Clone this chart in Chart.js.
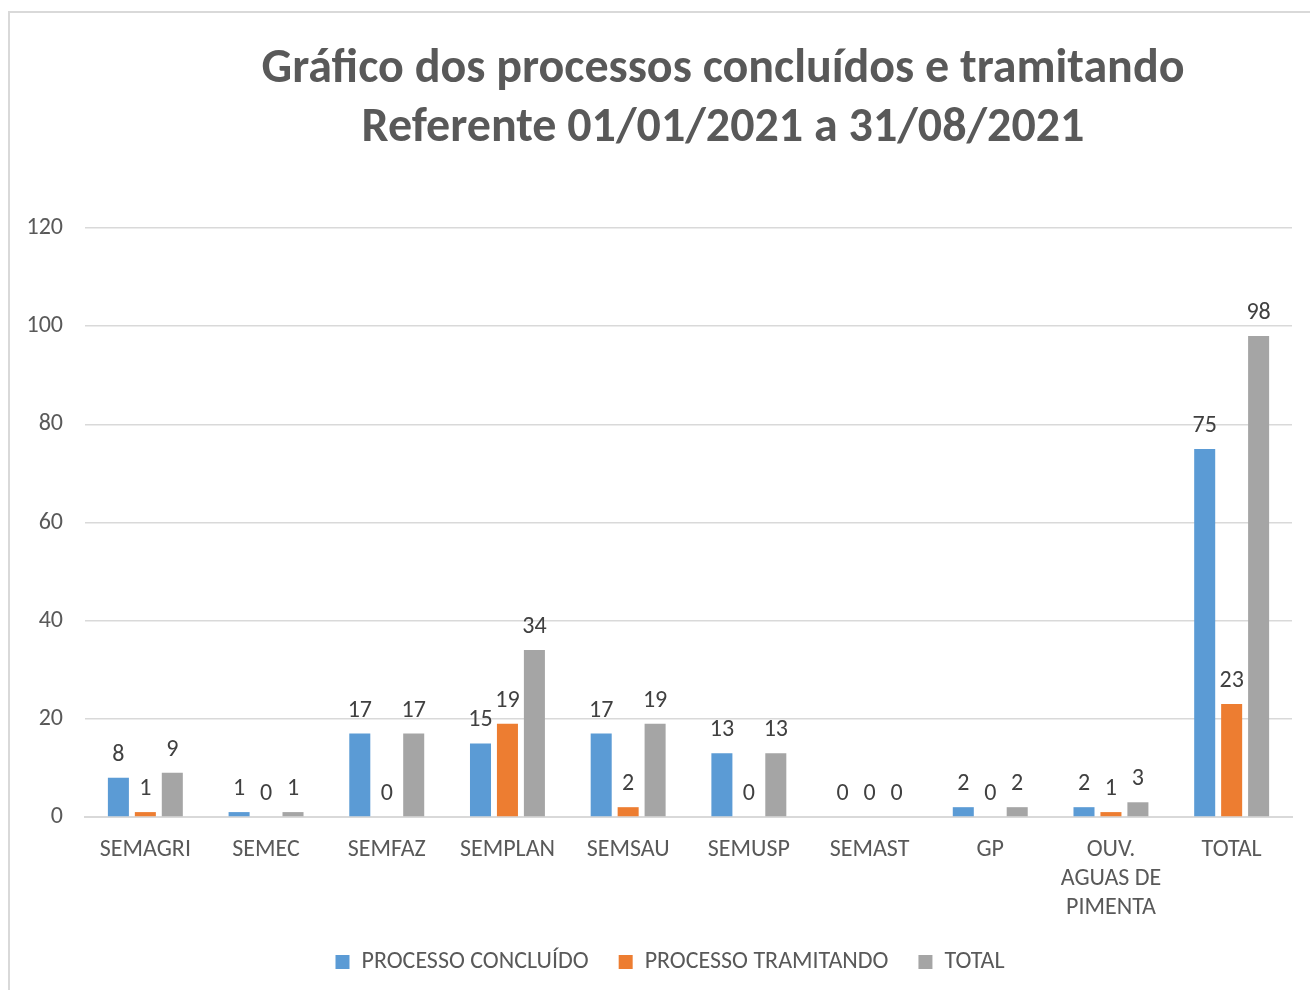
<!DOCTYPE html>
<html>
<head>
<meta charset="utf-8">
<script src="https://cdn.jsdelivr.net/npm/chart.js@4.4.1/dist/chart.umd.min.js"></script>
<style>
  html, body { margin: 0; padding: 0; background: #ffffff; }
  #wrap { position: relative; width: 1310px; height: 990px; overflow: hidden; }
  #frame { position: absolute; left: 8px; top: 11px; width: 1400px; height: 1100px;
           border-left: 2px solid #d9d9d9; border-top: 2px solid #d9d9d9; pointer-events: none; }
  canvas { position: absolute; left: 0; top: 0; }
</style>
</head>
<body>
<div id="wrap">
  <canvas id="c" width="1310" height="990"></canvas>
  <div id="frame"></div>
</div>
<script>
const titleLines = ['Gráfico dos processos concluídos e tramitando', 'Referente 01/01/2021 a 31/08/2021'];
const categories = ['SEMAGRI', 'SEMEC', 'SEMFAZ', 'SEMPLAN', 'SEMSAU', 'SEMUSP', 'SEMAST', 'GP', ['OUV.', 'AGUAS DE', 'PIMENTA'], 'TOTAL'];
const seriesNames = ['PROCESSO CONCLUÍDO', 'PROCESSO TRAMITANDO', 'TOTAL'];
const concluido   = [8, 1, 17, 15, 17, 13, 0, 2, 2, 75];
const tramitando  = [1, 0, 0, 19, 2, 0, 0, 0, 1, 23];
const total       = [9, 1, 17, 34, 19, 13, 0, 2, 3, 98];
const yTicks = [0, 20, 40, 60, 80, 100, 120];

const FONT = "Carlito, 'Open Sans', sans-serif";

const titlePlugin = {
  id: 'customTitle',
  afterLayout(chart) {
    if (chart.legend) { chart.legend.left += 24; chart.legend.right += 24; }
  },
  afterDraw(chart) {
    const ctx = chart.ctx;
    ctx.save();
    ctx.fillStyle = '#595959';
    ctx.font = "bold 48px " + FONT;
    ctx.textAlign = 'center';
    ctx.textBaseline = 'middle';
    ctx.fillText(titleLines[0], 723, 70);
    ctx.fillText(titleLines[1], 723, 129);
    ctx.restore();
  }
};

const labelPlugin = {
  id: 'barLabels',
  afterDatasetsDraw(chart) {
    const ctx = chart.ctx;
    ctx.save();
    ctx.fillStyle = '#404040';
    ctx.font = "24px " + FONT;
    ctx.textAlign = 'center';
    ctx.textBaseline = 'alphabetic';
    chart.data.datasets.forEach((ds, di) => {
      const meta = chart.getDatasetMeta(di);
      meta.data.forEach((bar, i) => {
        ctx.fillText(String(ds.data[i]), bar.x, bar.y - 17);
      });
    });
    ctx.restore();
  }
};

new Chart(document.getElementById('c'), {
  type: 'bar',
  data: {
    labels: categories,
    datasets: [
      { label: seriesNames[0], data: concluido, backgroundColor: '#5b9bd5' },
      { label: seriesNames[1], data: tramitando, backgroundColor: '#ed7d31' },
      { label: seriesNames[2], data: total, backgroundColor: '#a5a5a5' }
    ]
  },
  options: {
    responsive: false,
    animation: false,
    devicePixelRatio: 1,
    layout: { padding: { left: 0, right: 18, top: 228, bottom: 6 } },
    datasets: { bar: { categoryPercentage: 0.67, barPercentage: 0.78 } },
    scales: {
      x: {
        grid: { display: false },
        border: { display: true, color: '#d9d9d9', width: 2 },
        ticks: { color: '#595959', font: { family: FONT, size: 24, lineHeight: 1.2 }, padding: 11, maxRotation: 0, autoSkip: false },
        afterFit(scale) { scale.height = 103; }
      },
      y: {
        min: 0, max: 120,
        afterBuildTicks(scale) { scale.ticks = yTicks.map(v => ({ value: v })); },
        grid: { color: '#d9d9d9', lineWidth: 1.5, drawTicks: false },
        border: { display: false },
        ticks: { color: '#595959', font: { family: FONT, size: 24 }, padding: 22 },
        afterFit(scale) { scale.width = 85; }
      }
    },
    plugins: {
      title: { display: false },
      tooltip: { enabled: false },
      legend: {
        position: 'bottom',
        labels: { color: '#595959', font: { family: FONT, size: 24 }, boxWidth: 14, boxHeight: 14, padding: 30 }
      }
    }
  },
  plugins: [titlePlugin, labelPlugin]
});
</script>
</body>
</html>
